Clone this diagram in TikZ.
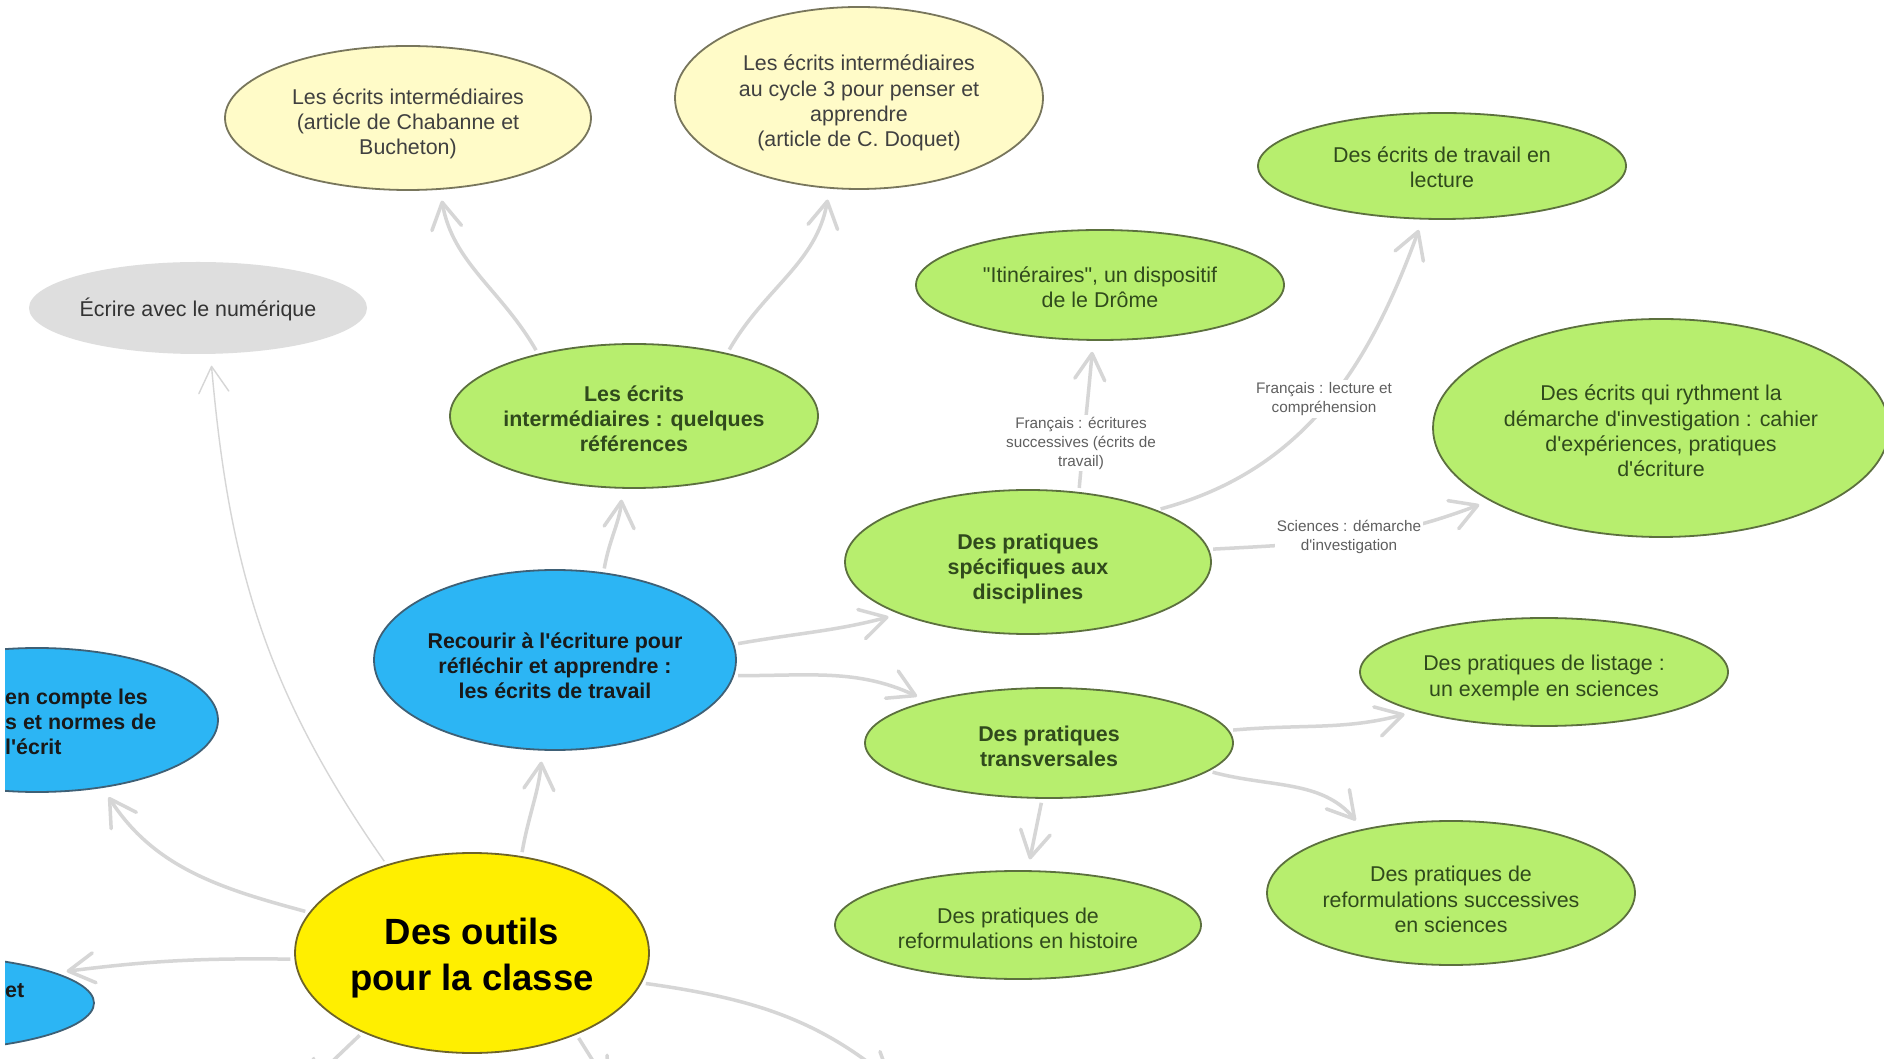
\documentclass[tikz,border=0pt]{standalone}
\usepackage{fontspec}
\setmainfont{Liberation Sans}[Ligatures=TeXOff]
\usetikzlibrary{arrows.meta,shapes.geometric}
\definecolor{ocgreen}{RGB}{183,238,110}
\definecolor{ocgreenline}{RGB}{92,112,62}
\definecolor{ocgreentext}{RGB}{48,74,28}
\definecolor{ocpale}{RGB}{255,251,200}
\definecolor{ocpaleline}{RGB}{120,118,92}
\definecolor{ocyellow}{RGB}{255,239,0}
\definecolor{ocyellowline}{RGB}{110,100,40}
\definecolor{ocblue}{RGB}{44,181,244}
\definecolor{ocblueline}{RGB}{62,96,118}
\definecolor{ocgray}{RGB}{222,222,222}
\definecolor{oclink}{RGB}{214,214,214}
\definecolor{oclabel}{RGB}{95,95,95}
\newcommand{\ocnormal}{\fontsize{21.4}{25.2}\selectfont}
\newcommand{\ocsmall}{\fontsize{15.3}{19}\selectfont}
\newcommand{\ocbig}{\fontsize{36.5}{45.5}\selectfont\bfseries}
\tikzset{
  oval/.style={ellipse, inner sep=0pt, line width=1.8pt},
  ovalsize/.style 2 args={minimum width=#1, minimum height=#2},
  greenoval/.style={oval, fill=ocgreen, draw=ocgreenline},
  paleoval/.style={oval, fill=ocpale, draw=ocpaleline},
  blueoval/.style={oval, fill=ocblue, draw=ocblueline},
  grayoval/.style={oval, fill=ocgray},
  ovaltext/.style={align=center, inner sep=0pt, font=\ocnormal},
  greentext/.style={ovaltext, text=ocgreentext},
  paletext/.style={ovaltext, text=black!75},
  bluetext/.style={ovaltext, text=black!90, font=\ocnormal\bfseries},
  link/.style={oclink, line width=3.5pt, -{Straight Barb[length=26pt,width=30pt,round]}, shorten <=4pt, shorten >=11pt},
  thinlink/.style={link, line width=1.4pt},
  linklabel/.style={font=\ocsmall, text=oclabel, align=center, fill=white, inner sep=2pt},
}

\begin{document}
\begin{tikzpicture}[x=1pt,y=1pt]
  \useasboundingbox (0,0) rectangle (1884,1058);
  \fill[white] (0,0) rectangle (1884,1058);
  \clip (5,0) rectangle (1884,1058);

  % centre
  \node[oval, fill=ocyellow, draw=ocyellowline, ovalsize={354pt}{200pt}] (main) at (472,105) {};
  \node[ovaltext, font=\ocbig] (maintxt) at ([yshift=-5pt]main.center) {Des outils\\pour la classe};

  % branches bleues
  \node[blueoval, ovalsize={362pt}{180pt}] (recourir) at (555,398) {};
  \node[bluetext] (recourirtxt) at ([yshift=-6pt]recourir.center) {Recourir à l'écriture pour\\réfléchir et apprendre :\\les écrits de travail};
  \node[blueoval, ovalsize={362pt}{144pt}] (normes) at (37,338) {};
  \node[bluetext, align=left, anchor=west] (normestxt) at (5,336) {en compte les\\s et normes de\\l'écrit};
  \node[blueoval, ovalsize={362pt}{96pt}] (autre) at (-87,55) {};
  \node[bluetext, anchor=west] (autretxt) at (5,67) {et};
  \node[grayoval, ovalsize={338pt}{92pt}] (numerique) at (198,750) {};
  \node[ovaltext, text=black!80] (numeriquetxt) at ([yshift=-1pt]numerique.center) {Écrire avec le numérique};

  % references
  \node[greenoval, ovalsize={368pt}{144pt}] (refs) at (634,642) {};
  \node[greentext, font=\ocnormal\bfseries] (refstxt) at ([yshift=-2.5pt]refs.center) {Les écrits\\intermédiaires : quelques\\références};
  \node[paleoval, ovalsize={366pt}{144pt}] (chabanne) at (408,940) {};
  \node[paletext] (chabannetxt) at ([yshift=-6pt]chabanne.center) {Les écrits intermédiaires\\(article de Chabanne et\\Bucheton)};
  \node[paleoval, ovalsize={368pt}{182pt}] (doquet) at (859,960) {};
  \node[paletext] (doquettxt) at ([yshift=-5pt]doquet.center) {Les écrits intermédiaires\\au cycle 3 pour penser et\\apprendre\\(article de C. Doquet)};

  % pratiques
  \node[greenoval, ovalsize={366pt}{144pt}] (specifiques) at (1028,496) {};
  \node[greentext, font=\ocnormal\bfseries] (specifiquestxt) at ([yshift=-7pt]specifiques.center) {Des pratiques\\spécifiques aux\\disciplines};
  \node[greenoval, ovalsize={368pt}{110pt}] (itineraires) at (1100,773) {};
  \node[greentext] (itinerairestxt) at ([yshift=-2pt]itineraires.center) {"Itinéraires", un dispositif\\de le Drôme};
  \node[greenoval, ovalsize={368pt}{106pt}] (lecture) at (1442,892) {};
  \node[greentext] (lecturetxt) at ([yshift=-1pt]lecture.center) {Des écrits de travail en\\lecture};
  \node[greenoval, ovalsize={456pt}{218pt}] (rythme) at (1661,630) {};
  \node[greentext] (rythmetxt) at ([yshift=-3pt]rythme.center) {Des écrits qui rythment la\\démarche d'investigation : cahier\\d'expériences, pratiques\\d'écriture};
  \node[greenoval, ovalsize={368pt}{110pt}] (transversales) at (1049,315) {};
  \node[greentext, font=\ocnormal\bfseries] (transversalestxt) at ([yshift=-3pt]transversales.center) {Des pratiques\\transversales};
  \node[greenoval, ovalsize={368pt}{108pt}] (listage) at (1544,386) {};
  \node[greentext] (listagetxt) at ([yshift=-6pt]listage.center) {Des pratiques de listage :\\un exemple en sciences};
  \node[greenoval, ovalsize={366pt}{108pt}] (histoire) at (1018,133) {};
  \node[greentext] (histoiretxt) at ([yshift=-3pt]histoire.center) {Des pratiques de\\reformulations en histoire};
  \node[greenoval, ovalsize={368pt}{144pt}] (sciences) at (1451,165) {};
  \node[greentext] (sciencestxt) at ([yshift=-6.5pt]sciences.center) {Des pratiques de\\reformulations successives\\en sciences};

  % branches hors cadre
  \coordinate (offa) at (296,-38);
  \coordinate (offb) at (615,-38);
  \coordinate (offc) at (900,-30);

  % liens
  \draw[link] (refs.147) to[out=120,in=-80] (chabanne.-66);
  \draw[link] (refs.34) to[out=60,in=-100] (doquet.-108);
  \draw[link] (recourir.61) to[out=80,in=-95] (refs.-99);
  \draw[link] (main.63) to[out=80,in=-95] (recourir.-98);
  \draw[thinlink] (main.134) to[out=125,in=-85] (numerique.-75);
  \draw[link] (main.166) to[out=165,in=-57] (normes.-46);
  \draw[link] (main.182) to[bend right=4] (autre.12);
  \draw[link] (main.216) -- (offa);
  \draw[link] (main.-38) -- (offb);
  \draw[link] (main.-10) to[out=-8,in=140] (offc);
  \draw[link] (recourir.5) to[out=10,in=195] (specifiques.202);
  \draw[link] (recourir.-5) to[out=0,in=155] (transversales.161);
  \draw[link] (specifiques.54) to[out=85,in=-95] (itineraires.-97);
  \draw[link] (specifiques.22) to[out=15,in=-110] (lecture.-110);
  \draw[link] (specifiques.4) to[out=3,in=201] (rythme.203);
  \draw[link] (transversales.4) to[out=5,in=195] (listage.197);
  \draw[link] (transversales.-10) to[out=-15,in=130] (sciences.144);
  \draw[link] (transversales.-97) -- (histoire.80);

  % etiquettes
  \node[linklabel] (lblecritures) at (1081,615) {Français : écritures\\successives (écrits de\\travail)};
  \node[linklabel] (lbllecture) at (1324,659) {Français : lecture et\\compréhension};
  \node[linklabel] (lblsciences) at (1349,521) {Sciences : démarche\\d'investigation};
\end{tikzpicture}
\end{document}
